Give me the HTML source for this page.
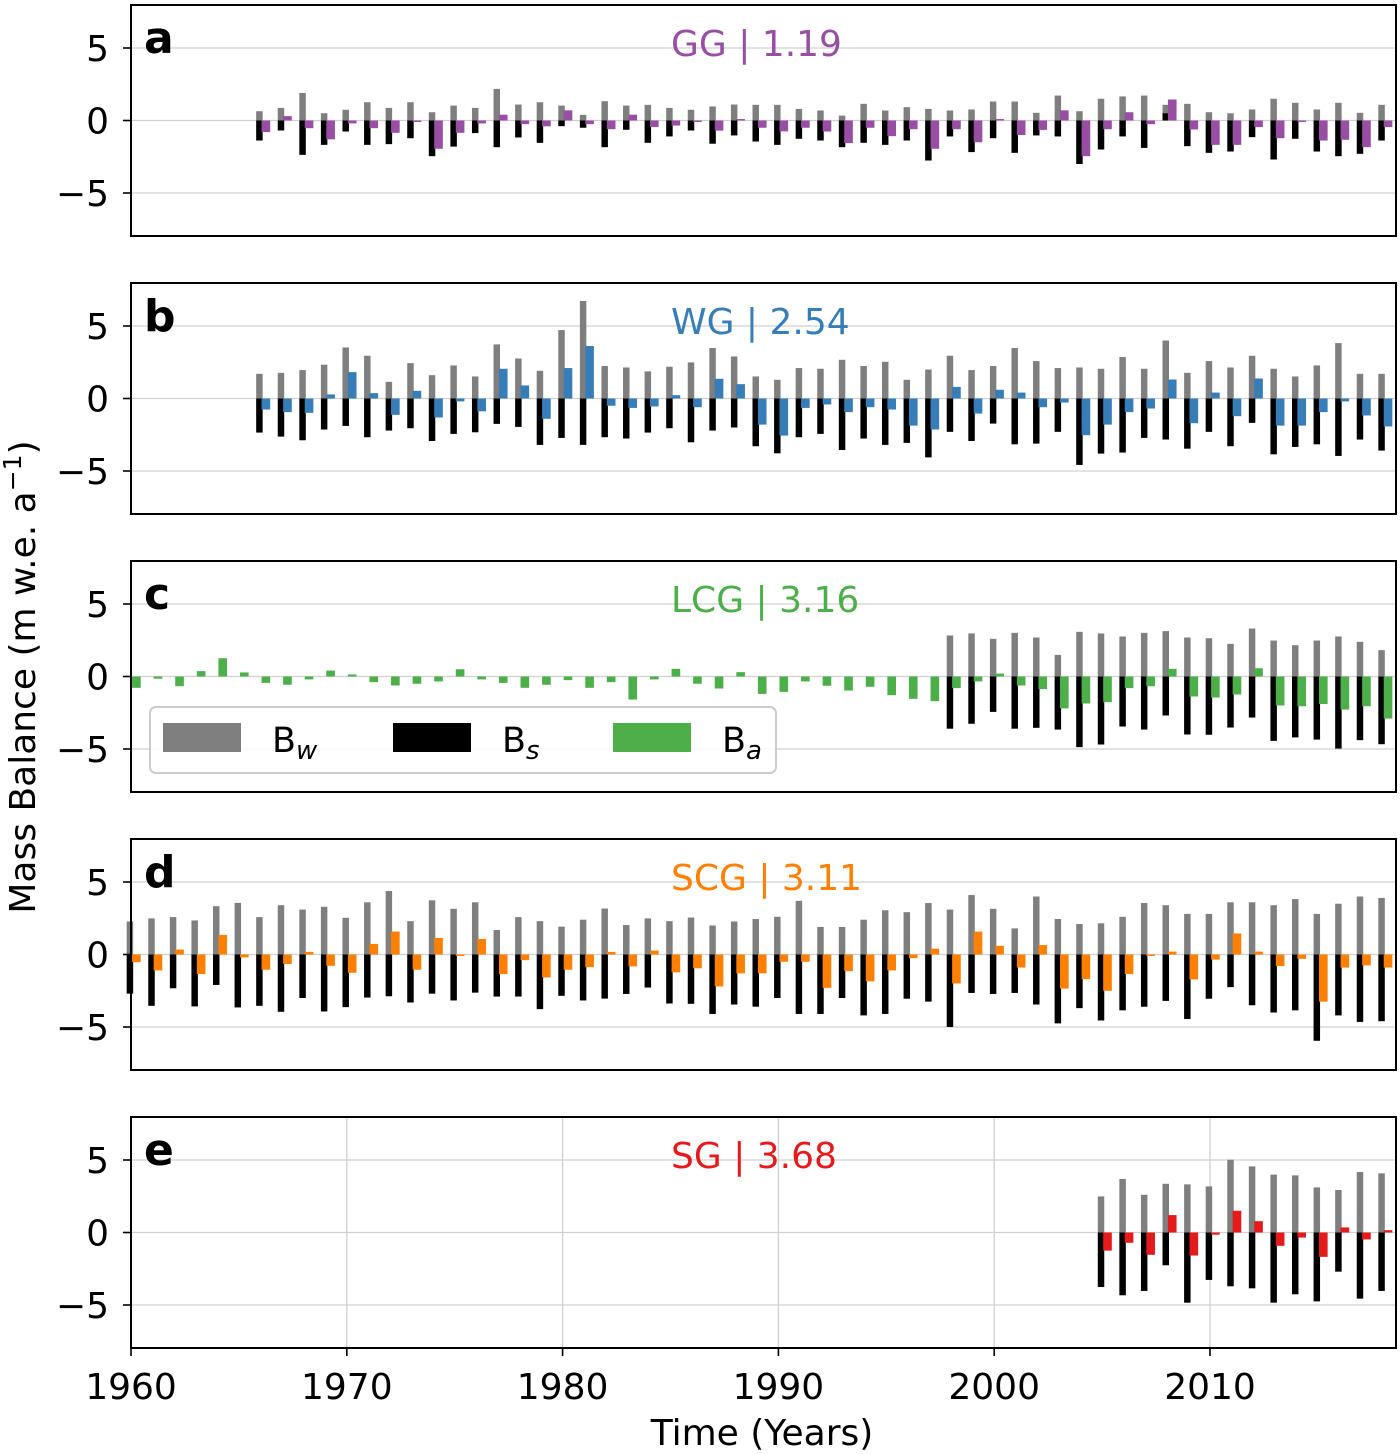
<!DOCTYPE html>
<html><head><meta charset="utf-8"><style>
html,body{margin:0;padding:0;background:#fff;}
svg{display:block;font-family:"DejaVu Sans","Liberation Sans",sans-serif;}
</style></head>
<body>
<svg id="chart" width="1400" height="1454" viewBox="0 0 1400 1454" xmlns="http://www.w3.org/2000/svg"></svg>
<script>
// ---- data ----
const yearsA = [1966,1967,1968,1969,1970,1971,1972,1973,1974,1975,1976,1977,1978,1979,1980,1981,1982,1983,1984,1985,1986,1987,1988,1989,1990,1991,1992,1993,1994,1995,1996,1997,1998,1999,2000,2001,2002,2003,2004,2005,2006,2007,2008,2009,2010,2011,2012,2013,2014,2015,2016,2017,2018];
const bwA = [0.64,0.87,1.9,0.5,0.74,1.26,0.87,1.26,0.57,1.03,0.87,2.18,1.1,1.26,1.03,0.39,1.33,1.03,1.08,0.87,0.74,0.97,1.1,1.08,1.08,0.8,0.69,0.34,1.15,0.69,0.92,0.8,0.69,0.76,1.31,1.31,0.53,1.72,0.64,1.5,1.66,1.72,1.08,1.15,0.57,0.5,0.76,1.5,1.22,0.76,1.22,0.53,1.08];
const bsA = [-1.38,-0.69,-2.37,-1.68,-0.76,-1.68,-1.63,-1.22,-2.46,-1.8,-0.87,-1.84,-1.17,-1.54,-0.39,-0.5,-1.84,-0.64,-1.54,-1.1,-0.69,-1.6,-1.03,-1.45,-1.68,-1.26,-1.38,-1.84,-1.54,-1.68,-1.38,-2.76,-1.1,-2.18,-1.22,-2.23,-1.03,-1.1,-3.0,-2.0,-1.1,-1.89,0.5,-1.77,-2.23,-2.14,-1.15,-2.69,-1.26,-2.14,-2.46,-2.3,-1.38];
const baA = [-0.8,0.3,-0.53,-1.3,-0.2,-0.53,-0.85,-0.1,-1.95,-0.85,-0.2,0.4,-0.25,-0.4,0.7,-0.25,-0.6,0.4,-0.45,-0.35,-0.1,-0.7,0.1,-0.5,-0.75,-0.5,-0.76,-1.56,-0.5,-1.08,-0.6,-1.95,-0.6,-1.5,0.1,-1.0,-0.65,0.7,-2.46,-0.6,0.57,-0.25,1.45,-0.62,-1.68,-1.68,-0.45,-1.22,-0.1,-1.38,-1.33,-1.84,-0.45];

const yearsB = yearsA;
const bwB = [1.7,1.77,1.96,2.33,3.52,2.95,1.15,2.44,1.61,2.28,1.52,3.73,2.76,1.91,4.72,6.73,2.24,2.14,1.87,2.19,2.49,3.48,2.9,1.52,1.29,2.1,2.05,2.67,2.24,2.53,1.29,2.0,2.95,1.96,2.24,3.48,2.58,2.1,2.14,2.05,2.86,2.05,4.0,1.77,2.58,2.14,2.95,2.05,1.52,2.28,3.82,1.7,1.7];
const bsB = [-2.35,-2.63,-2.88,-2.14,-1.89,-2.67,-2.21,-2.05,-2.93,-2.44,-2.33,-1.75,-1.96,-3.2,-2.72,-3.2,-2.67,-2.76,-2.35,-2.05,-3.02,-2.21,-2.0,-3.29,-3.78,-2.67,-2.44,-3.55,-2.76,-3.2,-3.06,-4.06,-2.3,-2.93,-1.73,-3.16,-3.11,-2.3,-4.58,-3.8,-3.73,-2.72,-2.83,-3.46,-2.3,-3.29,-1.68,-3.85,-3.34,-3.16,-3.96,-2.83,-3.59];
const baB = [-0.76,-0.94,-0.99,0.28,1.82,0.37,-1.13,0.53,-1.31,-0.2,-0.88,2.05,0.9,-1.4,2.1,3.62,-0.5,-0.65,-0.55,0.23,-0.6,1.36,0.99,-1.8,-2.56,-0.65,-0.41,-0.94,-0.6,-0.76,-1.87,-2.14,0.8,-1.04,0.6,0.41,-0.6,-0.28,-2.53,-1.8,-0.94,-0.69,1.31,-1.7,0.41,-1.22,1.38,-1.87,-1.87,-0.94,-0.2,-1.17,-1.93];

const yearsC = [1960,1961,1962,1963,1964,1965,1966,1967,1968,1969,1970,1971,1972,1973,1974,1975,1976,1977,1978,1979,1980,1981,1982,1983,1984,1985,1986,1987,1988,1989,1990,1991,1992,1993,1994,1995,1996,1997,1998,1999,2000,2001,2002,2003,2004,2005,2006,2007,2008,2009,2010,2011,2012,2013,2014,2015,2016,2017,2018];
const baC = [-0.78,-0.15,-0.67,0.37,1.26,0.28,-0.44,-0.57,-0.2,0.41,0.14,-0.39,-0.62,-0.5,-0.34,0.5,-0.2,-0.44,-0.78,-0.57,-0.25,-0.78,-0.39,-1.59,-0.2,0.53,-0.5,-0.83,0.3,-1.2,-1.06,-0.34,-0.64,-0.97,-0.71,-1.29,-1.54,-1.7,-0.8,-0.34,0.2,-0.62,-0.87,-2.2,-1.86,-1.77,-0.8,-0.67,0.53,-1.38,-1.45,-1.24,0.57,-2.0,-2.05,-1.9,-2.28,-2.05,-2.9];
const yearsC2 = [1998,1999,2000,2001,2002,2003,2004,2005,2006,2007,2008,2009,2010,2011,2012,2013,2014,2015,2016,2017,2018];
const bwC = [2.83,2.97,2.6,3.01,2.69,1.49,3.08,2.97,2.76,3.01,3.13,2.69,2.64,2.25,3.31,2.48,2.16,2.48,2.76,2.39,1.82];
const bsC = [-3.6,-3.26,-2.44,-3.6,-3.54,-3.66,-4.87,-4.69,-3.45,-3.66,-2.69,-4.0,-4.02,-3.52,-2.83,-4.44,-4.2,-4.35,-4.97,-4.39,-4.67];

const yearsD = yearsC;
const bwD = [2.28,2.49,2.58,2.35,3.33,3.56,2.58,3.4,3.1,3.29,2.53,3.6,4.38,2.3,3.74,3.15,3.6,1.69,2.58,2.3,1.92,2.4,3.17,2.03,2.49,2.3,2.55,2.0,2.28,2.45,2.6,3.7,1.9,1.9,2.4,3.05,2.92,3.55,3.1,4.1,3.15,1.8,4.0,2.45,2.1,2.15,2.6,3.55,3.4,2.8,2.8,3.6,3.6,3.4,3.82,2.8,3.5,4.0,3.9];
const bsD = [-2.7,-3.54,-2.33,-3.58,-2.1,-3.65,-3.54,-3.95,-3.0,-3.93,-3.63,-2.97,-2.88,-3.31,-2.7,-3.17,-2.63,-2.9,-2.9,-3.77,-2.85,-3.17,-3.04,-2.72,-2.28,-3.38,-3.4,-4.1,-3.45,-3.6,-3.0,-4.1,-4.1,-3.0,-4.2,-4.1,-3.05,-3.25,-5.0,-2.65,-2.72,-2.65,-3.45,-4.75,-3.7,-4.55,-3.85,-3.6,-3.2,-4.45,-3.05,-2.25,-3.5,-4.0,-3.85,-5.95,-4.2,-4.65,-4.6];
const baD = [-0.53,-1.1,0.34,-1.35,1.35,-0.2,-1.05,-0.66,0.18,-0.78,-1.26,0.73,1.58,-1.05,1.14,-0.1,1.07,-1.35,-0.39,-1.58,-1.05,-0.87,0.18,-0.82,0.27,-1.23,-0.95,-2.2,-1.3,-1.3,-0.5,-0.5,-2.3,-1.15,-1.85,-1.1,-0.25,0.4,-2.0,1.58,0.6,-0.9,0.65,-2.35,-1.7,-2.5,-1.35,-0.1,0.2,-1.72,-0.35,1.45,0.2,-0.8,-0.3,-3.25,-0.9,-0.75,-0.9];

const yearsE = [2005,2006,2007,2008,2009,2010,2011,2012,2013,2014,2015,2016,2017,2018];
const bwE = [2.49,3.69,2.6,3.36,3.32,3.18,5.02,4.56,3.99,3.94,3.11,2.93,4.17,4.08];
const bsE = [-3.76,-4.33,-4.03,-2.26,-4.84,-3.27,-3.71,-3.85,-4.84,-4.26,-4.75,-2.7,-4.56,-4.03];
const baE = [-1.25,-0.71,-1.54,1.2,-1.59,-0.15,1.5,0.78,-0.92,-0.35,-1.68,0.35,-0.48,0.16];

const yTicks = [5,0,-5];
const yTickLabels = ["5","0","\u22125"];
const xTicks = [1960,1970,1980,1990,2000,2010];
const panelLetters = ["a","b","c","d","e"];
const panelTitles = ["GG | 1.19","WG | 2.54","LCG | 3.16","SCG | 3.11","SG | 3.68"];
const panelColors = ["#984ea3","#377eb8","#4daf4a","#ff7f00","#e41a1c"];

// ---- layout ----
const NS = "http://www.w3.org/2000/svg";
const svg = document.getElementById("chart");
const L = 131, R = 1396, H = 231;
const tops = [5,283,561,839,1117];
const X0 = 1960, PXY = (1210 - 131) / 50;
function xs(yr){ return L + (yr - X0) * PXY; }
function ys(top, v){ return top + H/2 - v * 14.5; }
function mk(tag, attrs, parent){
  const e = document.createElementNS(NS, tag);
  for (const k in attrs) e.setAttribute(k, attrs[k]);
  (parent || svg).appendChild(e);
  return e;
}
function barRect(g, top, x0, x1, v, fill, name){
  const y0 = ys(top, 0), y1 = ys(top, v);
  const r = mk("rect", {x: x0, y: Math.min(y0,y1), width: x1 - x0, height: Math.max(0.5, Math.abs(y1 - y0)), fill: fill}, g);
  
  
}

const panels = [
  {yrs: yearsA, bw: bwA, bs: bsA, ba: baA, yrs2: yearsA},
  {yrs: yearsB, bw: bwB, bs: bsB, ba: baB, yrs2: yearsB},
  {yrs: yearsC, bw: bwC, bs: bsC, ba: baC, yrs2: yearsC2},
  {yrs: yearsD, bw: bwD, bs: bsD, ba: baD, yrs2: yearsD},
  {yrs: yearsE, bw: bwE, bs: bsE, ba: baE, yrs2: yearsE}
];

panels.forEach((p, i) => {
  const top = tops[i];
  const g = mk("g", {});
  
  
  yTicks.forEach(t => {
    const ln = mk("line", {x1: L, x2: R, y1: ys(top,t), y2: ys(top,t), stroke: "#d0d0d0", "stroke-width": 1.3}, g);
    
    
  });
  if (i === 4) {
    xTicks.forEach(t => {
      const ln = mk("line", {x1: xs(t), x2: xs(t), y1: top, y2: top + H, stroke: "#d0d0d0", "stroke-width": 1.3}, g);
      
      
    });
  }
  const gw = 0.2, gw2 = 0.1, c0 = 0.05, c1 = 0.45;
  p.yrs2.forEach((yr, j) => {
    barRect(g, top, xs(yr - gw), xs(yr + gw2), p.bw[j], "#7f7f7f", 'bar-bw-' + yr);
  });
  p.yrs2.forEach((yr, j) => {
    barRect(g, top, xs(yr - gw), xs(yr + gw2), p.bs[j], "#000000", 'bar-bs-' + yr);
  });
  p.yrs.forEach((yr, j) => {
    barRect(g, top, xs(yr + c0), xs(yr + c1), p.ba[j], panelColors[i], 'bar-ba-' + yr);
  });
  const fr = mk("rect", {x: L, y: top, width: R - L, height: H, fill: "none", stroke: "#000", "stroke-width": 2}, g);
  
  
  yTicks.forEach((t, k) => {
    const tk = mk("line", {x1: L - 8, x2: L, y1: ys(top,t), y2: ys(top,t), stroke: "#000", "stroke-width": 1.6}, g);
    
    
    const tx = mk("text", {x: L - 22, y: ys(top,t) + 13, "text-anchor": "end", "font-size": 36, fill: "#000"}, g);
    tx.textContent = yTickLabels[k];
    
    
  });
  const lt = mk("text", {x: 144, y: top + 48, "font-size": 44, "font-weight": "bold", fill: "#000"}, g);
  lt.textContent = panelLetters[i];
  
  
  const tt = mk("text", {x: 671, y: top + 51, "font-size": 36, fill: panelColors[i]}, g);
  tt.textContent = panelTitles[i];
  
  
});

xTicks.forEach(t => {
  const tk = mk("line", {x1: xs(t), x2: xs(t), y1: 1348, y2: 1356, stroke: "#000", "stroke-width": 1.6});
  
  
  const tx = mk("text", {x: xs(t), y: 1399, "text-anchor": "middle", "font-size": 36, fill: "#000"});
  tx.textContent = String(t);
  
  
});

const xt = mk("text", {x: 762, y: 1445, "text-anchor": "middle", "font-size": 36, fill: "#000"});
xt.textContent = "Time (Years)";



const yt = mk("text", {x: 0, y: 0, "text-anchor": "middle", "font-size": 36, fill: "#000", transform: "translate(35,677) rotate(-90)"});
yt.innerHTML = 'Mass Balance (m w.e. a<tspan dy="-14" font-size="25">\u22121</tspan><tspan dy="14">)</tspan>';



const lg = mk("g", {});


const lb = mk("rect", {x: 150, y: 707, width: 626, height: 66, rx: 6, fill: "#fff", "fill-opacity": 0.85, stroke: "#cccccc", "stroke-width": 2}, lg);


const legItems = [
  {x: 163, c: "#7f7f7f", sub: "w", name: "legend-entry-bw"},
  {x: 393, c: "#000000", sub: "s", name: "legend-entry-bs"},
  {x: 613, c: "#4daf4a", sub: "a", name: "legend-entry-ba"}
];
legItems.forEach(it => {
  const ge = mk("g", {}, lg);
  
  
  mk("rect", {x: it.x, y: 723, width: 78, height: 29, fill: it.c}, ge);
  const t = mk("text", {x: it.x + 109, y: 752, "font-size": 35, fill: "#000"}, ge);
  t.innerHTML = 'B<tspan dy="7" font-size="26" font-style="italic">' + it.sub + '</tspan>';
});
</script>
</body></html>
